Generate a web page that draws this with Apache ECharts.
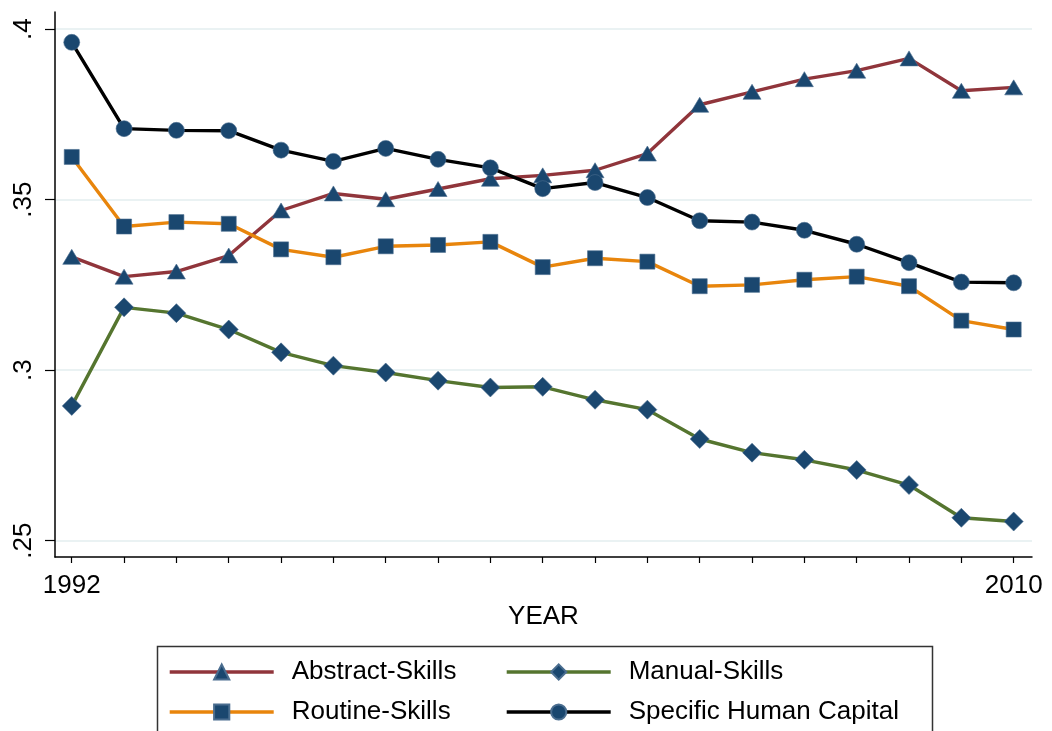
<!DOCTYPE html>
<html>
<head>
<meta charset="utf-8">
<script src="https://cdn.jsdelivr.net/npm/echarts@6/dist/echarts.min.js"></script>
<style>
  html, body { margin: 0; padding: 0; background: #fff; }
  #chart { width: 1052px; height: 731px; }
</style>
</head>
<body>
<div id="chart"></div>
<script>
// Skill shares by year, 1992-2010
const years = [1992, 1993, 1994, 1995, 1996, 1997, 1998, 1999, 2000, 2001,
               2002, 2003, 2004, 2005, 2006, 2007, 2008, 2009, 2010];
const abstractSkills = [0.3332, 0.3274, 0.3289, 0.3336, 0.3468, 0.3518, 0.3501, 0.3531, 0.3561, 0.3571,
                        0.3586, 0.3635, 0.3778, 0.3816, 0.3853, 0.3878, 0.3914, 0.3819, 0.3829];
const manualSkills = [0.2895, 0.3184, 0.3167, 0.3119, 0.3052, 0.3013, 0.2993, 0.2969, 0.2949, 0.2951,
                      0.2913, 0.2884, 0.2798, 0.2758, 0.2737, 0.2707, 0.2663, 0.2567, 0.2556];
const routineSkills = [0.3625, 0.3421, 0.3434, 0.3429, 0.3354, 0.3331, 0.3363, 0.3367, 0.3376, 0.3302,
                       0.3328, 0.3318, 0.3246, 0.3250, 0.3265, 0.3274, 0.3246, 0.3145, 0.3119];
const specificHC = [0.3961, 0.3708, 0.3703, 0.3702, 0.3645, 0.3612, 0.3650, 0.3618, 0.3593, 0.3532,
                    0.3550, 0.3506, 0.3438, 0.3434, 0.3410, 0.3369, 0.3315, 0.3258, 0.3256];
const yTicks = [0.25, 0.3, 0.35, 0.4];
const xLabels = [1992, 2010];

const FONT = '"Liberation Sans", Arial, sans-serif';
const MARKER = '#1a476f';

function pairs(vals) { return years.map((y, i) => [y, vals[i]]); }

function lineSeries(name, vals, color, symbol, size) {
  return {
    name: name,
    type: 'line',
    data: pairs(vals),
    symbol: symbol,
    symbolSize: size,
    showAllSymbol: true,
    lineStyle: { color: color, width: 3.4 },
    itemStyle: { color: MARKER, borderColor: '#4a6d8f', borderWidth: 0.6 },
    emphasis: { disabled: true },
    animation: false,
    z: 2
  };
}

const legendText = {
  fontFamily: FONT, fontSize: 26, color: '#000', lineHeight: 26, padding: [0, 0, 0, 13]
};

function legendBlock(left, names) {
  return {
    orient: 'vertical', left: left, top: 659, padding: 0,
    itemWidth: 104, itemHeight: 19, itemGap: 14,
    data: names,
    lineStyle: { width: 3.4 },
    textStyle: legendText,
    selectedMode: false
  };
}

const chart = echarts.init(document.getElementById('chart'), null, { renderer: 'canvas' });

chart.setOption({
  backgroundColor: '#ffffff',
  animation: false,
  grid: { left: 55, top: 12, right: 20, bottom: 174, containLabel: false },
  xAxis: {
    type: 'value',
    min: 1991.68,
    max: 2010.35,
    name: 'YEAR',
    nameLocation: 'middle',
    nameGap: 43,
    nameTextStyle: { fontFamily: FONT, fontSize: 26, color: '#000' },
    axisLine: { show: true, onZero: false, lineStyle: { color: '#000', width: 1.5 } },
    axisTick: { show: true, length: 6, lineStyle: { color: '#000', width: 1.2 }, customValues: years },
    axisLabel: {
      fontFamily: FONT, fontSize: 26, color: '#000', margin: 16,
      customValues: xLabels, formatter: v => String(v)
    },
    splitLine: { show: false }
  },
  yAxis: {
    type: 'value',
    min: 0.2452,
    max: 0.405,
    axisLine: { show: true, lineStyle: { color: '#000', width: 1.5 } },
    axisTick: { show: true, length: 10, lineStyle: { color: '#000', width: 1.2 }, customValues: yTicks },
    axisLabel: {
      fontFamily: FONT, fontSize: 26, color: '#000', rotate: 90, margin: 18,
      customValues: yTicks,
      formatter: v => String(+v.toFixed(2)).replace(/^0/, '')
    },
    splitLine: { show: true, lineStyle: { color: '#eaf2f3', width: 2 } }
  },
  legend: [
    legendBlock(168, ['Abstract-Skills', 'Routine-Skills']),
    legendBlock(505, ['Manual-Skills', 'Specific Human Capital'])
  ],
  graphic: [
    {
      type: 'rect', left: 155, top: 644, silent: true,
      shape: { width: 775, height: 100 },
      style: { fill: 'none', stroke: '#333', lineWidth: 1.5 }
    }
  ],
  series: [
    lineSeries('Abstract-Skills', abstractSkills, '#90353b', 'triangle', [18, 15]),
    lineSeries('Manual-Skills', manualSkills, '#55752f', 'diamond', [19, 19]),
    lineSeries('Routine-Skills', routineSkills, '#e8850c', 'rect', [15, 15]),
    lineSeries('Specific Human Capital', specificHC, '#000000', 'circle', 16)
  ]
});
</script>
</body>
</html>
